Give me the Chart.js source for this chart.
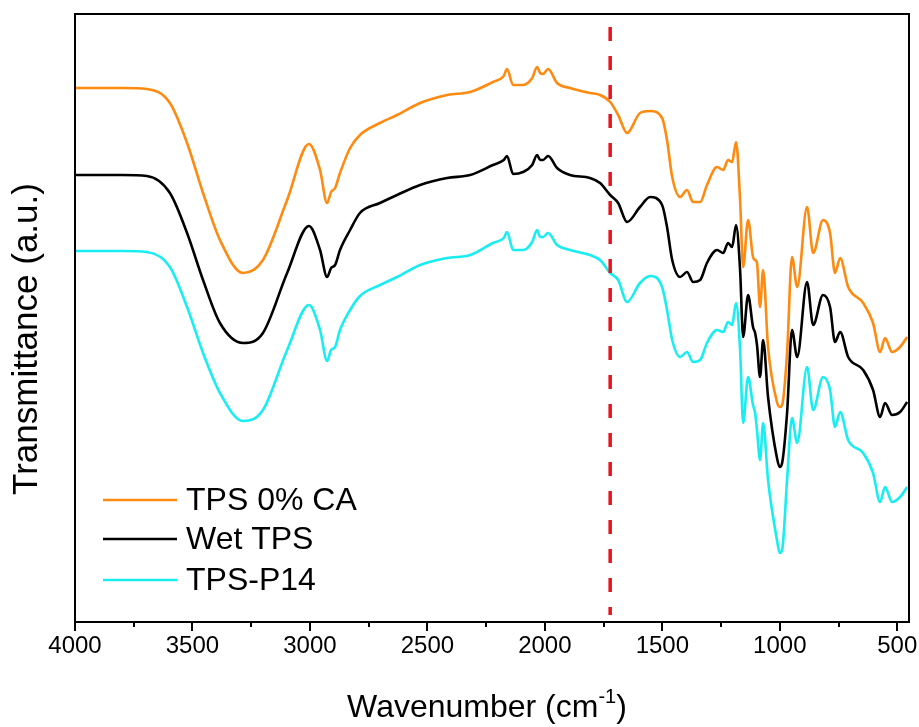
<!DOCTYPE html>
<html>
<head>
<meta charset="utf-8">
<script src="https://cdn.jsdelivr.net/npm/chart.js@4.4.1/dist/chart.umd.min.js"></script>
<style>
  html, body { margin: 0; padding: 0; background: #ffffff; }
  #c { display: block; }
</style>
</head>
<body>
<canvas id="c" width="919" height="727"></canvas>
<script>
// ---- data (wavenumber in cm-1, transmittance in arbitrary units) ----
const wavenumbers = [4000, 3800, 3694, 3596, 3523, 3455, 3383, 3285, 3200, 3097, 3004, 2957, 2927, 2910, 2893, 2872, 2829, 2787, 2702, 2629, 2531, 2416, 2318, 2221, 2175, 2161, 2135, 2093, 2054, 2033, 2020, 2008, 1986, 1948, 1893, 1808, 1765, 1722, 1688, 1650, 1595, 1552, 1501, 1480, 1458, 1424, 1395, 1369, 1339, 1310, 1267, 1241, 1220, 1203, 1186, 1169, 1156, 1135, 1114, 1105, 1097, 1084, 1071, 1050, 1012, 1000, 990, 969, 948, 926, 884, 858, 816, 786, 765, 743, 709, 645, 603, 573, 552, 522, 488, 458];

const tps0CA = [534, 534, 533, 519, 479, 429, 382, 349, 362, 422, 478, 452, 419, 430, 434, 449, 474, 487, 499, 507, 519, 527, 530, 540, 546, 553, 537, 537, 544, 555, 549, 548, 553, 539, 534, 529, 527, 520, 507, 489, 509, 511, 504, 482, 445, 425, 432, 420, 420, 437, 455, 452, 462, 460, 480, 422, 355, 402, 365, 362, 359, 315, 352, 275, 220, 215, 217, 269, 365, 335, 415, 369, 402, 389, 349, 364, 335, 319, 299, 270, 284, 270, 275, 285];

const wetTPS = [447, 447, 446, 429, 389, 342, 299, 279, 289, 349, 396, 372, 345, 354, 357, 372, 392, 409, 419, 427, 437, 444, 447, 457, 462, 466, 448, 450, 457, 467, 462, 462, 466, 454, 447, 444, 439, 427, 419, 400, 415, 425, 417, 395, 362, 345, 350, 340, 342, 359, 372, 369, 379, 375, 397, 352, 285, 327, 295, 289, 277, 245, 282, 225, 164, 155, 159, 209, 292, 265, 340, 297, 327, 315, 280, 290, 265, 252, 232, 205, 219, 207, 210, 220];

const tpsP14 = [371, 371, 370, 355, 315, 269, 229, 201, 212, 272, 317, 292, 261, 272, 275, 292, 312, 326, 337, 345, 357, 364, 367, 379, 384, 390, 372, 372, 380, 392, 385, 385, 389, 377, 372, 367, 362, 349, 342, 320, 339, 346, 335, 312, 282, 265, 270, 260, 262, 279, 292, 290, 300, 297, 319, 272, 199, 245, 217, 209, 192, 162, 199, 142, 82, 69, 72, 142, 204, 179, 255, 212, 245, 232, 195, 210, 182, 169, 149, 120, 135, 120, 125, 135];

const seriesNames = ['TPS 0% CA', 'Wet TPS', 'TPS-P14'];
const seriesColors = ['#ff8a10', '#000000', '#18eef2'];
const xTickValues = [4000, 3750, 3500, 3250, 3000, 2750, 2500, 2250, 2000, 1750, 1500, 1250, 1000, 750, 500];
const xLabelValues = [4000, 3500, 3000, 2500, 2000, 1500, 1000, 500];
const markerWavenumber = 1722;
const markerRange = [595, 7];
const xRange = [450, 4000];
const yRange = [0, 608];

const FONT = '"Liberation Sans", Arial, Helvetica, sans-serif';

function pts(ys) { return wavenumbers.map((x, i) => ({ x: x, y: ys[i] })); }

const framePlugin = {
  id: 'frameAndLabels',
  afterDraw(chart) {
    const ctx = chart.ctx;
    const a = chart.chartArea;
    const xs = chart.scales.x;
    ctx.save();
    // frame
    ctx.strokeStyle = '#000';
    ctx.lineWidth = 2;
    ctx.strokeRect(a.left, a.top, a.right - a.left, a.bottom - a.top);
    // tick marks (major / minor) placed by the x scale
    xTickValues.forEach(v => {
      const px = Math.round(xs.getPixelForValue(v));
      const len = xLabelValues.includes(v) ? 9 : 5;
      ctx.beginPath();
      ctx.moveTo(px, a.bottom);
      ctx.lineTo(px, a.bottom + len);
      ctx.stroke();
    });
    // legend
    ctx.font = '32px ' + FONT;
    ctx.textBaseline = 'middle';
    ctx.textAlign = 'left';
    const rowY = [500, 539, 580];
    chart.data.datasets.forEach((ds) => {
      if (!ds.inLegend) return;
      const k = ds.legendIndex;
      ctx.strokeStyle = ds.borderColor;
      ctx.lineWidth = 2.6;
      ctx.beginPath();
      ctx.moveTo(103, rowY[k]);
      ctx.lineTo(177, rowY[k]);
      ctx.stroke();
      ctx.fillStyle = '#000';
      ctx.fillText(ds.label, 186, rowY[k] + 1);
    });
    // y axis title
    ctx.save();
    ctx.translate(27, 339);
    ctx.rotate(-Math.PI / 2);
    ctx.textAlign = 'center';
    ctx.font = '35px ' + FONT;
    ctx.fillStyle = '#000';
    ctx.fillText('Transmittance (a.u.)', 0, 0);
    ctx.restore();
    // x axis title with superscript
    const main = 'Wavenumber (cm';
    const sup = '-1';
    const tail = ')';
    ctx.font = '32px ' + FONT;
    const w1 = ctx.measureText(main).width;
    const w3 = ctx.measureText(tail).width;
    ctx.font = '20px ' + FONT;
    const w2 = ctx.measureText(sup).width;
    const total = w1 + w2 + w3;
    const x0 = 487 - total / 2;
    const yb = 717;
    ctx.textAlign = 'left';
    ctx.textBaseline = 'alphabetic';
    ctx.font = '32px ' + FONT;
    ctx.fillText(main, x0, yb);
    ctx.font = '20px ' + FONT;
    ctx.fillText(sup, x0 + w1, yb - 14);
    ctx.font = '32px ' + FONT;
    ctx.fillText(tail, x0 + w1 + w2, yb);
    ctx.restore();
  }
};

new Chart(document.getElementById('c'), {
  type: 'line',
  data: {
    datasets: [
      {
        label: 'marker',
        data: [{ x: markerWavenumber, y: markerRange[0] }, { x: markerWavenumber, y: markerRange[1] }],
        borderColor: '#e8141c',
        borderWidth: 3.5,
        borderDash: [14, 15],
        pointRadius: 0,
        fill: false,
        inLegend: false,
        order: 0
      },
      {
        label: seriesNames[1], data: pts(wetTPS), borderColor: seriesColors[1],
        borderWidth: 2.6, pointRadius: 0, fill: false, cubicInterpolationMode: 'monotone',
        inLegend: true, legendIndex: 1, order: 1
      },
      {
        label: seriesNames[0], data: pts(tps0CA), borderColor: seriesColors[0],
        borderWidth: 2.6, pointRadius: 0, fill: false, cubicInterpolationMode: 'monotone',
        inLegend: true, legendIndex: 0, order: 2
      },
      {
        label: seriesNames[2], data: pts(tpsP14), borderColor: seriesColors[2],
        borderWidth: 2.6, pointRadius: 0, fill: false, cubicInterpolationMode: 'monotone',
        inLegend: true, legendIndex: 2, order: 3
      }
    ]
  },
  options: {
    responsive: false,
    animation: false,
    devicePixelRatio: 1,
    layout: { padding: { top: 14, right: 10, left: 0, bottom: 0 } },
    plugins: { legend: { display: false }, tooltip: { enabled: false }, title: { display: false } },
    scales: {
      x: {
        type: 'linear',
        reverse: true,
        min: xRange[0],
        max: xRange[1],
        afterBuildTicks: s => { s.ticks = xTickValues.map(v => ({ value: v })); },
        afterFit: s => { s.height = 105; s.paddingLeft = 0; s.paddingRight = 0; },
        grid: { display: false, drawTicks: false },
        border: { display: false },
        ticks: {
          autoSkip: false,
          maxRotation: 0,
          padding: 10,
          color: '#000',
          font: { size: 24, family: FONT },
          callback: v => (xLabelValues.includes(v) ? String(v) : '')
        }
      },
      y: {
        type: 'linear',
        min: yRange[0],
        max: yRange[1],
        afterFit: s => { s.width = 75; s.paddingTop = 0; s.paddingBottom = 0; },
        grid: { display: false, drawTicks: false },
        border: { display: false },
        ticks: { display: false }
      }
    }
  },
  plugins: [framePlugin]
});
</script>
</body>
</html>
